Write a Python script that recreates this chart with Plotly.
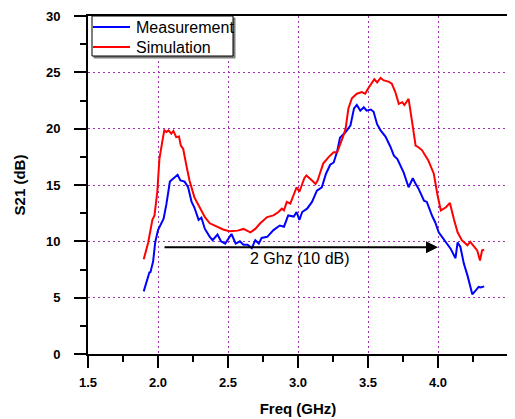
import plotly.graph_objects as go

meas_x = [1.898, 1.92, 1.94, 1.945, 1.965, 1.98, 2.0, 2.04, 2.06, 2.085, 2.11, 2.14, 2.16, 2.19, 2.215,
          2.24, 2.26, 2.29, 2.31, 2.335, 2.37, 2.39, 2.425, 2.45, 2.48, 2.525, 2.555, 2.585, 2.61, 2.64,
          2.67, 2.695, 2.72, 2.74, 2.78, 2.825, 2.87, 2.9, 2.93, 2.97, 2.99, 3.01, 3.03, 3.065, 3.1,
          3.135, 3.17, 3.2, 3.23, 3.255, 3.28, 3.3, 3.34, 3.375, 3.4, 3.42, 3.445, 3.47, 3.49, 3.52,
          3.54, 3.565, 3.59, 3.625, 3.66, 3.685, 3.71, 3.73, 3.755, 3.79, 3.82, 3.84, 3.86, 3.9, 3.92,
          3.96, 3.98, 4.005, 4.03, 4.065, 4.09, 4.125, 4.14, 4.16, 4.185, 4.21, 4.23, 4.245, 4.27, 4.29,
          4.305, 4.33]
meas_y = [5.56, 6.5, 7.3, 7.2, 8.2, 9.9, 11.0, 12.0, 13.3, 15.3, 15.6, 15.9, 15.4, 15.3, 14.8,
          13.5, 13.0, 11.9, 12.1, 11.1, 10.4, 10.1, 10.6, 10.0, 9.8, 10.65, 9.8, 10.0, 9.7, 9.7,
          9.4, 10.1, 9.8, 10.3, 10.4, 11.0, 11.4, 11.3, 12.3, 12.2, 12.6, 11.9, 12.6, 12.9, 13.5,
          14.5, 14.8, 16.0, 16.8, 17.0, 18.0, 19.2, 19.7, 20.3, 21.8, 22.1, 21.6, 21.9, 21.6, 21.7,
          21.5, 20.4, 19.85, 19.3, 18.4, 17.6, 17.3, 16.7, 16.1, 14.8, 15.6, 15.1, 14.7, 13.6, 13.5,
          12.2, 11.7, 10.8, 10.4, 9.8, 9.35, 8.5, 9.9, 9.5, 8.0, 7.0, 5.95, 5.3, 5.65, 5.95,
          5.9, 6.0]

sim_x = [1.898, 1.93, 1.96, 1.975, 1.995, 2.01, 2.03, 2.045, 2.06, 2.075, 2.095, 2.11, 2.13, 2.15,
         2.163, 2.18, 2.205, 2.225, 2.26, 2.3, 2.335, 2.37, 2.42, 2.465, 2.51, 2.57, 2.61, 2.66, 2.695,
         2.73, 2.78, 2.825, 2.86, 2.885, 2.9, 2.92, 2.945, 2.97, 2.99, 3.01, 3.03, 3.045, 3.06, 3.075,
         3.1, 3.125, 3.14, 3.16, 3.18, 3.22, 3.255, 3.28, 3.3, 3.325, 3.34, 3.36, 3.385, 3.42, 3.455,
         3.48, 3.5, 3.525, 3.545, 3.565, 3.59, 3.61, 3.65, 3.67, 3.695, 3.72, 3.745, 3.76, 3.79, 3.815,
         3.84, 3.86, 3.885, 3.93, 3.97, 3.995, 4.02, 4.055, 4.085, 4.115, 4.14, 4.17, 4.21, 4.23, 4.26,
         4.28, 4.3, 4.315, 4.33]
sim_y = [8.4, 9.9, 11.9, 12.3, 14.4, 17.3, 18.8, 19.85, 19.7, 19.85, 19.55, 19.8, 19.25, 19.3,
         18.5, 18.2, 16.6, 15.4, 13.9, 12.9, 12.15, 11.6, 11.3, 11.05, 10.9, 10.95, 11.1, 10.8, 11.1,
         11.6, 12.15, 12.3, 12.6, 12.9, 12.75, 13.5, 13.35, 14.1, 14.8, 14.4, 15.0, 15.6, 15.85, 15.7,
         15.4, 15.1, 15.4, 16.15, 16.9, 17.5, 17.9, 17.9, 18.5, 19.4, 20.0, 21.8, 22.7, 23.1, 23.25,
         23.1, 23.55, 24.0, 24.4, 24.1, 24.5, 24.3, 24.15, 24.0, 23.25, 22.2, 22.35, 22.1, 22.65, 20.6,
         18.5, 18.35, 18.1, 17.2, 16.0, 14.2, 12.75, 13.0, 13.4, 11.9, 10.8, 10.1, 9.65, 9.95, 9.5,
         9.2, 8.3, 9.2, 9.25]

series_names = ["Measurement", "Simulation"]
series_colors = ["#0000ff", "#ff0000"]
arrow_x = [2.036, 4.0]
arrow_y = 9.47
label_text = "2 Ghz (10 dB)"

FONT = "Arial, Liberation Sans, sans-serif"
GRID = "#a030b0"
GRIDDASH = "2px,3px"

fig = go.Figure()
for xs, ys, nm, col in [(meas_x, meas_y, series_names[0], series_colors[0]),
                        (sim_x, sim_y, series_names[1], series_colors[1])]:
    fig.add_trace(go.Scatter(x=xs, y=ys, mode="lines", name=nm, showlegend=False,
                             line=dict(color=col, width=2)))
# invisible trace to activate right axis
fig.add_trace(go.Scatter(x=[None], y=[None], yaxis="y2", showlegend=False, hoverinfo="skip"))

fig.add_annotation(x=arrow_x[1], y=arrow_y, ax=arrow_x[0], ay=arrow_y, xref="x", yref="y",
                   axref="x", ayref="y", text="", showarrow=True, arrowhead=2, arrowsize=1.2,
                   arrowwidth=2, arrowcolor="black")
fig.add_annotation(x=3.017, y=8.5, xref="x", yref="y", text=label_text, showarrow=False,
                   font=dict(family=FONT, size=16, color="black"))

# legend box (drawn in paper coords; page pixel positions, plot area 88..508 x 16..354)
W, H = 420.0, 338.0
def px(p):
    return (p - 88) / W
def py(p):
    return (354 - p) / H
fig.add_shape(type="rect", xref="paper", yref="paper", x0=px(94), x1=px(235), y0=py(58), y1=py(18),
              line=dict(color="#808080", width=1), fillcolor="#808080", layer="above")
fig.add_shape(type="rect", xref="paper", yref="paper", x0=px(92), x1=px(233), y0=py(56), y1=py(16),
              line=dict(color="black", width=1), fillcolor="white", layer="above")
for i, (nm, col) in enumerate(zip(series_names, series_colors)):
    yy = py(27 + 20 * i)
    fig.add_shape(type="line", xref="paper", yref="paper", x0=px(93), x1=px(130), y0=yy, y1=yy,
                  line=dict(color=col, width=2), layer="above")
    fig.add_annotation(xref="paper", yref="paper", x=px(134), y=yy, text=nm, showarrow=False,
                       xanchor="left", yanchor="middle",
                       font=dict(family=FONT, size=16, color="black"))

# page body has an 8px margin; figure is sized/offset to compensate
fig.update_layout(
    width=507, height=411,
    margin=dict(l=80, r=7, t=8, b=65, autoexpand=False),
    paper_bgcolor="white", plot_bgcolor="white",
    font=dict(family=FONT, color="black"),
    showlegend=False,
    xaxis=dict(range=[1.5, 4.5], dtick=0.5, tick0=1.5, tickformat=".1f", automargin=False,
               showline=True, linecolor="black", linewidth=2, mirror=True,
               ticks="outside", ticklen=12, tickwidth=2, tickcolor="black",
               minor=dict(dtick=0.25, ticks="outside", ticklen=6, tickwidth=2, tickcolor="black", showgrid=False),
               showgrid=True, gridcolor=GRID, griddash=GRIDDASH, gridwidth=1,
               zeroline=False, ticklabelstandoff=3,
               tickprefix="<b>", ticksuffix="</b>",
               tickfont=dict(family=FONT, size=13, color="black"),
               title=dict(text="<b>Freq (GHz)</b>", font=dict(family=FONT, size=15, color="black"), standoff=15)),
    yaxis=dict(range=[0, 30], dtick=5, tick0=0, automargin=False,
               showline=True, linecolor="black", linewidth=2,
               ticks="outside", ticklen=12, tickwidth=2, tickcolor="black",
               minor=dict(dtick=2.5, ticks="outside", ticklen=6, tickwidth=2, tickcolor="black", showgrid=False),
               showgrid=True, gridcolor=GRID, griddash=GRIDDASH, gridwidth=1,
               zeroline=False, ticklabelstandoff=11,
               tickprefix="<b>", ticksuffix="</b>",
               tickfont=dict(family=FONT, size=13, color="black"),
               title=dict(text="<b>S21 (dB)</b>", font=dict(family=FONT, size=15, color="black"), standoff=17)),
    yaxis2=dict(range=[0, 30], dtick=5, overlaying="y", side="right", automargin=False,
                showline=True, linecolor="black", linewidth=2,
                ticks="outside", ticklen=3, tickwidth=1, tickcolor="black",
                minor=dict(dtick=2.5, ticks="outside", ticklen=3, tickwidth=1, tickcolor="black"),
                showticklabels=False, showgrid=False, zeroline=False),
)

fig.write_html("out.html")
